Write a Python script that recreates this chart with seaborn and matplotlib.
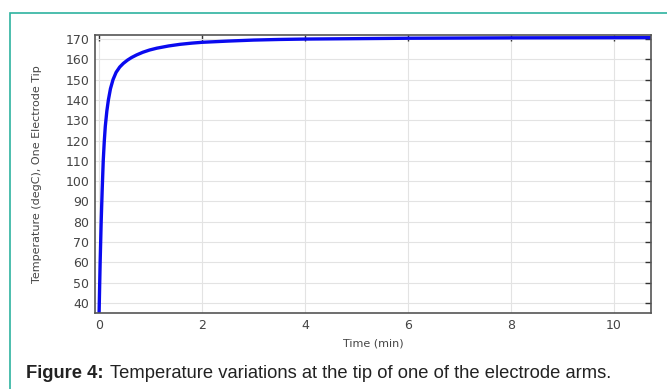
import matplotlib
matplotlib.use("Agg")
import matplotlib.pyplot as plt
import seaborn as sns
import pandas as pd
from matplotlib.patches import Rectangle

time_min = [0.0, 0.01, 0.02, 0.04, 0.06, 0.08, 0.10, 0.12, 0.15, 0.18, 0.22, 0.27, 0.33, 0.40, 0.47,
            0.55, 0.63, 0.73, 0.85, 0.98, 1.12, 1.35, 1.57, 1.8, 2.0, 2.5, 3.0, 3.5, 4.0, 5.0, 6.0, 8.0, 10.72]
temp_degc = [35.5, 48.0, 60.0, 80.0, 96.0, 110.0, 119.5, 127.0, 134.5, 140.0, 145.5, 150.0, 153.6, 156.2, 158.0,
             159.6, 160.9, 162.2, 163.5, 164.6, 165.5, 166.6, 167.4, 168.0, 168.4, 169.0, 169.5, 169.8, 170.0,
             170.2, 170.4, 170.6, 170.7]
y_ticks = list(range(40, 171, 10))
x_ticks = [0, 2, 4, 6, 8, 10]

df = pd.DataFrame({"t": time_min, "T": temp_degc})

sns.set_theme(style="white")
plt.rcParams["font.family"] = ["DejaVu Sans"]

fig = plt.figure(figsize=(6.67, 3.89), dpi=100)
ax = fig.add_axes([95/667, 1-313/389, (651-95)/667, (313-35)/389])

sns.lineplot(data=df, x="t", y="T", ax=ax, color="#0a0aef", linewidth=2.4, estimator=None, sort=False)

ax.set_xlim(-0.08, 10.72)
ax.set_ylim(35.0, 172.0)
ax.set_xticks(x_ticks)
ax.set_yticks(y_ticks)
ax.grid(True, color="#e3e3e3", linewidth=0.8)
for s in ax.spines.values():
    s.set_visible(True)
    s.set_color("#555555")
    s.set_linewidth(1.2)
ax.tick_params(axis="both", direction="in", length=4, width=1, color="#333333",
               top=True, right=True, labelsize=9, labelcolor="#444444", pad=4)
ax.set_xlabel("Time (min)", fontsize=8, color="#444444", labelpad=5)
ax.set_ylabel("Temperature (degC), One Electrode Tip", fontsize=8, color="#444444", labelpad=17)

# teal frame
fig.patches.append(Rectangle((9.5/667, -0.1), 1.2, (389-13)/389 + 0.1, transform=fig.transFigure,
                             fill=False, edgecolor="#2db3a0", linewidth=1.2))

fig.text(26/667, 1-373/389, "Figure 4:", fontsize=13.2, fontweight="bold", color="#222222",
         family="Liberation Sans", va="center", ha="left")
fig.text(110/667, 1-373/389, "Temperature variations at the tip of one of the electrode arms.",
         fontsize=13.2, color="#222222", family="Liberation Sans", va="center", ha="left")

fig.savefig("out.png", dpi=100)
